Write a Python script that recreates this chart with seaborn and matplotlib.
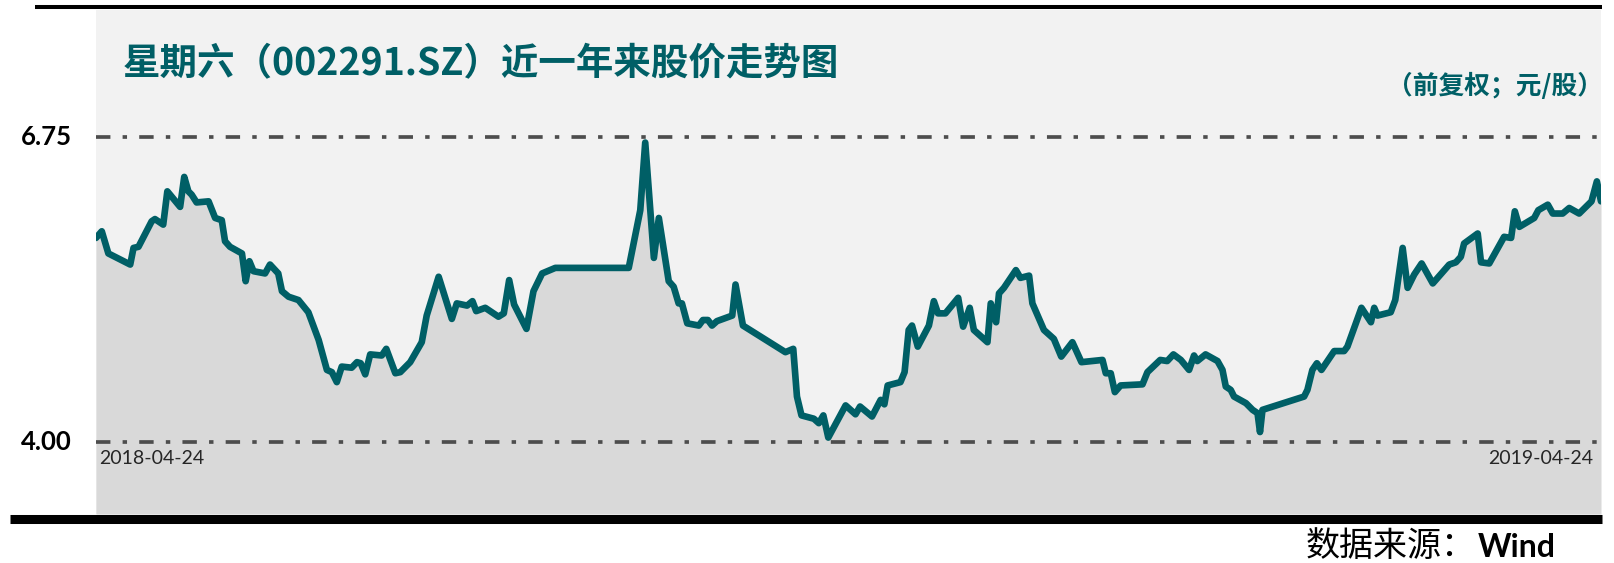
import pandas as pd
import seaborn as sns
import matplotlib.pyplot as plt
from matplotlib.lines import Line2D
from matplotlib import transforms

# 2018-04-24 이후 경과일 / 주가 (그림에서 읽은 꼭짓점)
day = [0, 1.4, 3, 8.3, 9.1, 10.3, 13.5, 14.3, 16.3, 17.3, 20.4, 21.4, 22.4, 23.2, 24.4,
       27.3, 28.9, 30.5, 31.3, 32.5, 35.4, 36.3, 37.2, 38.2, 41.0, 42.2, 44.2, 45.1, 46.7,
       49.1, 51.5, 54.0, 56.0, 57.2, 58.4, 59.6, 62.0, 63.3, 64.2, 65.3, 66.5, 69.3, 70.4,
       72.6, 73.8, 76.2, 79.0, 80.2, 83.1, 86.3, 87.5, 90.0, 91.3,
       92.2, 94.4, 97.6, 98.9, 100.2, 101.4, 104.4, 106.1, 108.2, 111.4, 129.2, 132.0,
       133.2, 134.3, 135.3, 136.5, 138.9, 140.1, 141.3, 142.1, 143.4, 146.2, 147.2, 148.4,
       149.4, 150.6, 154.3, 155.1, 156.9, 167.2, 169.1, 170.0, 171.1, 174.1, 175.3, 176.4,
       177.6,
       181.8, 184.2, 185.3, 188.2, 190.3, 191.2, 192.0, 195.1, 196.1, 197.1, 197.9, 199.3,
       202.0, 203.2, 204.2, 206.0, 209.1, 210.3, 211.9, 212.9, 216.2, 217.0, 218.3, 219.0,
       220.2, 223.1, 224.2, 226.3, 227.1, 229.9, 232.3, 234.1, 236.8, 239.0, 244.1, 244.9,
       246.1, 247.1, 248.5, 253.8, 255.0, 258.1, 259.8, 261.3, 263.1, 265.1, 266.3, 267.1,
       269.1,
       272.0, 273.2, 274.0, 275.2, 276.0, 278.9, 280.5, 281.7, 282.3, 282.9, 293.0, 293.8,
       295.0, 296.1, 297.2, 300.3, 302.7, 303.5, 306.9, 309.2, 310.0, 310.8, 314.0, 315.1,
       316.9, 318.1, 319.7, 321.5, 324.2, 328.2, 329.8, 331.0, 331.8, 335.1, 335.9, 337.9,
       341.5, 343.2, 344.1, 345.2, 348.8, 349.8, 352.1, 353.3, 355.7, 357.3, 359.7, 362.7,
       364.0, 365.0]
price = [5.84, 5.90, 5.70, 5.60, 5.75, 5.76, 5.99, 6.01, 5.96, 6.26, 6.12, 6.39, 6.26, 6.23, 6.16,
         6.17, 6.02, 6.00, 5.81, 5.76, 5.70, 5.45, 5.63, 5.54, 5.52, 5.60, 5.52, 5.36, 5.31,
         5.28, 5.17, 4.92, 4.65, 4.63, 4.54, 4.68, 4.67, 4.72, 4.71, 4.61, 4.79, 4.78, 4.84,
         4.62, 4.63, 4.72, 4.90, 5.14, 5.49, 5.11, 5.25, 5.23, 5.27,
         5.18, 5.21, 5.13, 5.16, 5.46, 5.24, 5.02, 5.36, 5.52, 5.57, 5.57, 6.09,
         6.70, 6.15, 5.66, 6.02, 5.45, 5.40, 5.25, 5.25, 5.07, 5.05, 5.10, 5.10,
         5.05, 5.09, 5.14, 5.42, 5.05, 4.81, 4.84, 4.41, 4.24, 4.21, 4.17, 4.24,
         4.04,
         4.33, 4.25, 4.32, 4.23, 4.38, 4.34, 4.51, 4.54, 4.63, 5.01, 5.05, 4.86,
         5.05, 5.27, 5.16, 5.16, 5.30, 5.04, 5.21, 5.01, 4.90, 5.25, 5.08, 5.34,
         5.39, 5.55, 5.48, 5.50, 5.25, 5.01, 4.93, 4.77, 4.90, 4.72, 4.74, 4.62,
         4.62, 4.45, 4.51, 4.52, 4.63, 4.74, 4.73, 4.79, 4.74, 4.65, 4.78, 4.73,
         4.79,
         4.73, 4.65, 4.50, 4.47, 4.41, 4.35, 4.29, 4.26, 4.09, 4.29, 4.41, 4.47,
         4.65, 4.71, 4.65, 4.82, 4.82, 4.86, 5.21, 5.08, 5.21, 5.14, 5.17, 5.28,
         5.75, 5.39, 5.51, 5.61, 5.43, 5.60, 5.62, 5.67, 5.79, 5.88, 5.62, 5.61,
         5.85, 5.84, 6.08, 5.94, 6.02, 6.09, 6.14, 6.06, 6.06, 6.11, 6.06, 6.17,
         6.35, 6.17]

ref_levels = [4.00, 6.75]
start_label = '2018-04-24'
end_label = '2019-04-24'
title = '星期六（002291.SZ）近一年来股价走势图'
unit = '（前复权；元/股）'
source = '数据来源：'
source_name = 'Wind'

teal = '#005f66'

sns.set_style('white')
plt.rcParams['font.family'] = ['Noto Sans CJK SC', 'DejaVu Sans']
latin = ['Lato', 'DejaVu Sans']

W, H = 1614, 563
fig = plt.figure(figsize=(W / 100, H / 100), dpi=100)
ax = fig.add_axes([96 / W, 1 - 514 / H, (1601 - 96) / W, (514 - 10) / H])

df = pd.DataFrame({'day': day, 'price': price})
y_lo, y_hi = 3.351, 7.895

# 선 아래 회색 영역
ax.fill_between(df['day'], df['price'], y_lo, color='#d9d9d9', lw=0, zorder=1)

# 기준선 (점선)
for lv in ref_levels:
    ax.axhline(lv, color='#4d4d4d', lw=2.66, dashes=(3.9, 3.3, 1.2, 3.3), zorder=2)

sns.lineplot(data=df, x='day', y='price', ax=ax, color=teal, lw=4.8, sort=False, zorder=3)

ax.set_xlim(0, 365)
ax.set_ylim(y_lo, y_hi)
ax.set_facecolor('#f2f2f2')
ax.set_xticks([])
ax.set_yticks([])
ax.set_xlabel('')
ax.set_ylabel('')
for s in ax.spines.values():
    s.set_visible(False)

trans = transforms.blended_transform_factory(ax.transAxes, ax.transData)
for lv in ref_levels:
    ax.text(-0.016, lv, f'{lv:.2f}', transform=trans, ha='right', va='center',
            fontsize=18.5, fontweight='bold', family=latin, color='black')

ax.text(0.002, 3.93, start_label, transform=trans, ha='left', va='top',
        fontsize=14, family=latin, color='#262626')
ax.text(0.9947, 3.93, end_label, transform=trans, ha='right', va='top',
        fontsize=14, family=latin, color='#262626')

fig.text(123 / W, 1 - 63.5 / H, title, ha='left', va='center', fontsize=27,
         fontweight='bold', color=teal)
fig.text(1603 / W, 1 - 86 / H, unit, ha='right', va='center', fontsize=18.5,
         fontweight='bold', color=teal)

fig.text(1306 / W, 1 - 556 / H, source, ha='left', va='baseline', fontsize=24.5, color='black')
fig.text(1478 / W, 1 - 557 / H, source_name, ha='left', va='baseline', fontsize=23,
         fontweight='bold', family=latin, color='black')

# 위/아래 검은 선
fig.add_artist(Line2D([35 / W, 1602 / W], [1 - 7 / H] * 2, lw=2.9, color='black',
                      solid_capstyle='butt'))
fig.add_artist(Line2D([10 / W, 1602 / W], [1 - 518.5 / H] * 2, lw=6.5, color='black',
                      solid_capstyle='butt'))

fig.savefig('out.png', dpi=100)
